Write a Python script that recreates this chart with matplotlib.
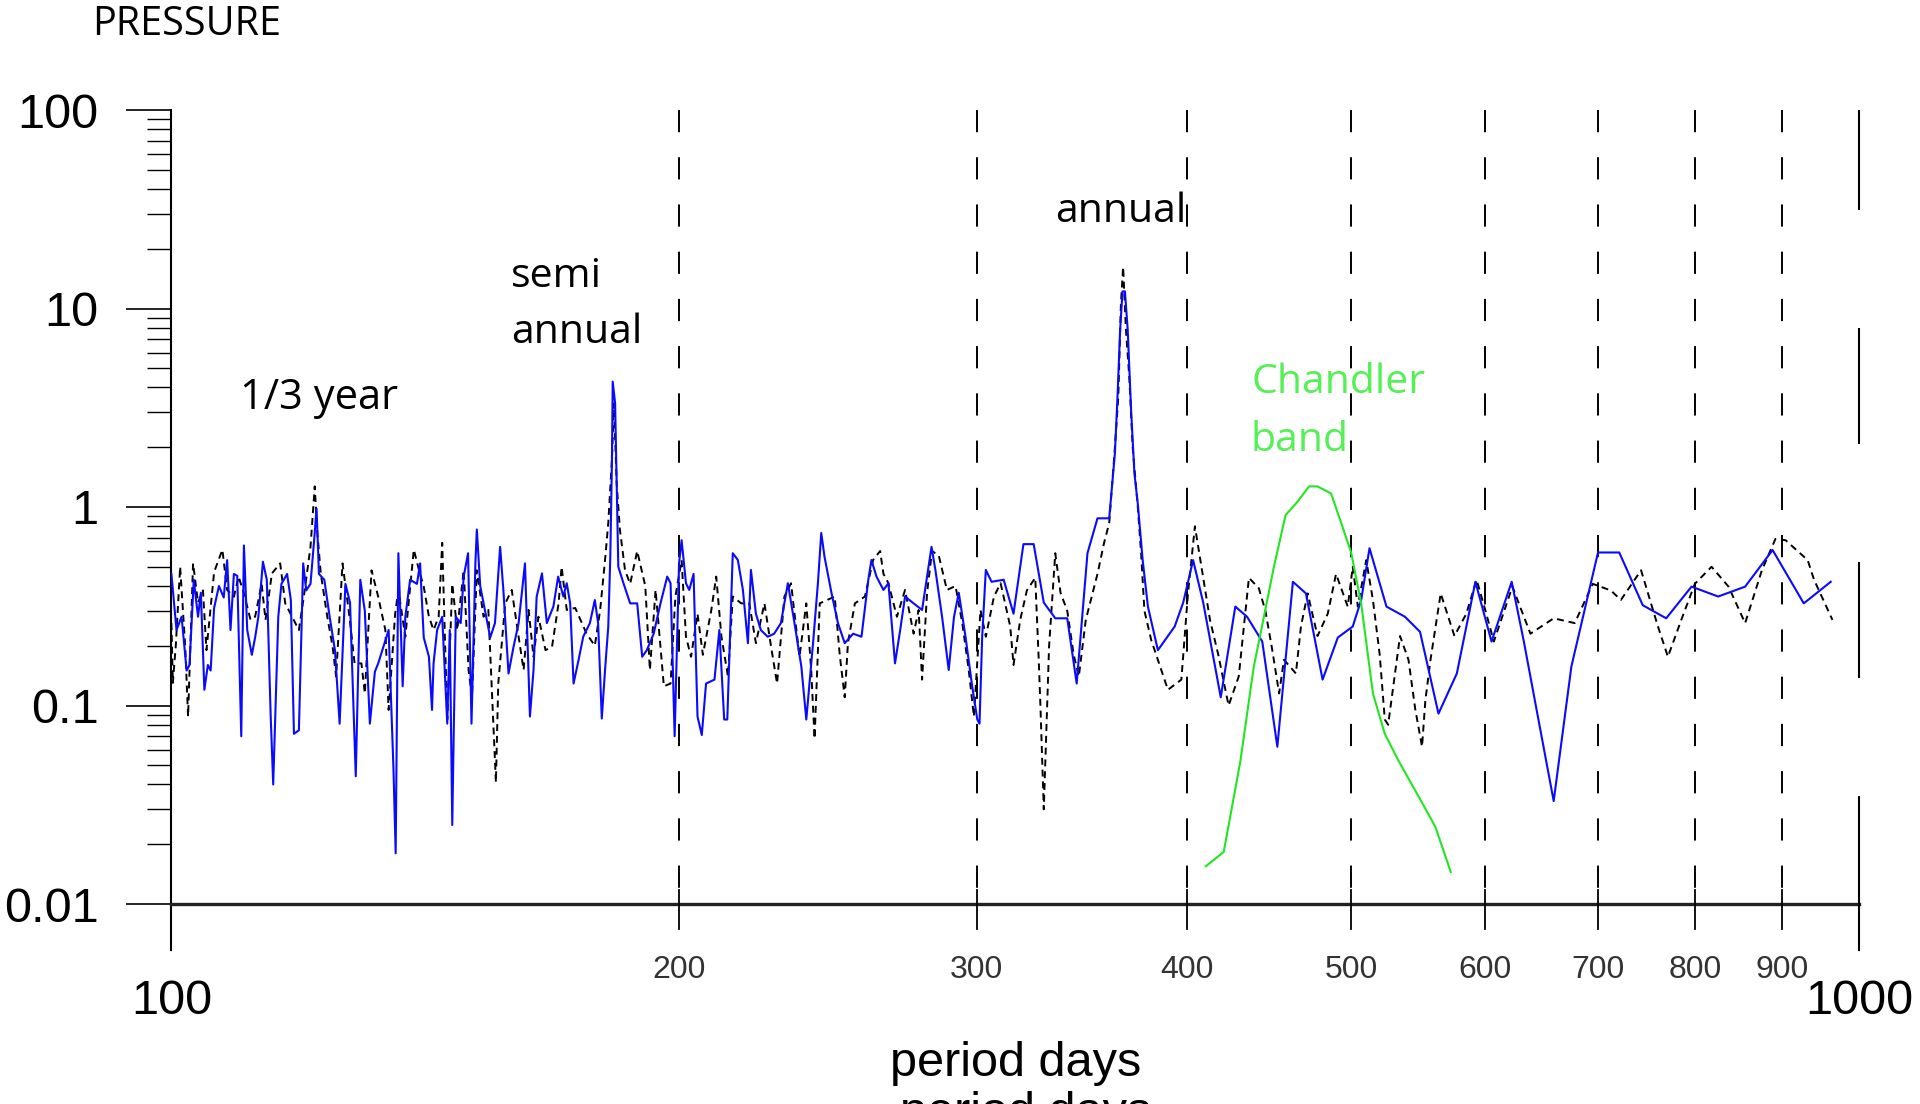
import matplotlib
matplotlib.use("Agg")
import matplotlib.pyplot as plt
from matplotlib.ticker import LogLocator, NullFormatter, NullLocator, FixedFormatter, FixedLocator

plt.rcParams['lines.scale_dashes'] = False

# pressure spectrum, blue (solid) series: period (days), amplitude
blue_period = [100.0, 100.7, 101.4, 102.1, 102.5, 103.1, 103.7, 104.1, 104.6, 105.1, 105.5, 106.0, 106.7, 107.4,
               107.9, 108.4, 108.9, 109.4, 110.0, 110.4, 110.9, 111.6, 112.1, 112.6, 113.3, 113.9, 114.5, 114.9,
               115.7, 116.2, 117.1, 117.7, 118.2, 119.0, 119.7, 120.2, 120.9, 121.5, 121.9, 122.3, 123.2, 124.1,
               125.0, 125.8, 126.8, 127.6, 128.6, 129.4, 130.2, 131.1, 132.0, 132.6, 133.6, 134.5, 135.4, 135.8,
               136.3, 137.1, 137.6, 138.5, 139.8, 140.4, 141.1, 142.1, 142.7, 143.0, 143.7, 144.7, 145.7, 146.2,
               146.7, 147.0, 147.4, 148.4, 149.0, 149.9, 150.6, 151.4, 151.7, 152.4, 153.4, 154.5, 155.5, 156.6,
               157.3, 158.4, 159.5, 160.6, 162.0, 163.1, 163.9, 164.6, 165.8, 166.9, 168.4, 169.5, 170.7,
               171.5, 172.3, 173.1, 174.3, 175.4, 177.0, 178.2, 179.0, 179.9, 180.7, 181.5, 182.0, 182.4, 182.6,
               183.2, 183.6, 184.0, 185.3, 187.0, 188.8, 190.1, 191.3, 193.1, 194.9, 196.7, 197.6, 198.7, 199.9,
               200.6, 201.8, 202.7, 203.9, 205.0, 206.2, 207.4, 209.8, 211.2, 212.6, 213.5, 215.1, 216.6, 218.1,
               219.6, 220.5, 222.0, 223.5, 225.6, 227.6, 229.7, 231.9, 234.0, 236.2, 237.8, 240.0, 241.6, 242.7,
               243.8, 246.1, 248.3, 250.6, 253.5, 256.4, 258.8, 259.9, 261.7, 264.2, 266.0, 267.2, 268.4, 270.3,
               272.1, 275.3, 278.5, 280.4, 282.1, 283.6, 286.2, 288.8, 290.9, 292.8, 295.5, 298.2, 300.3, 301.2,
               302.3, 303.8, 306.2, 311.3, 315.5, 319.8, 324.3, 328.8, 334.0, 339.5, 343.9, 349.0, 353.8, 359.5,
               362.3, 363.6, 364.9, 366.1, 367.3, 368.7, 370.4, 372.1, 373.8, 376.3, 379.0, 384.2, 393.1, 397.7,
               403.1, 408.7, 418.6, 427.0, 433.9, 443.0, 452.2, 461.9, 470.2, 481.0, 491.1, 501.2, 507.0, 512.8,
               524.8, 538.2, 549.4, 563.4, 577.7, 592.5, 605.7, 622.6, 632.8, 659.3, 675.4, 700.4, 721.0, 744.5,
               768.7, 795.7, 825.2, 856.1, 888.8, 927.4, 962.2]
blue_amp = [0.46, 0.24, 0.28, 0.15, 0.16, 0.43, 0.28, 0.37, 0.12, 0.16, 0.15, 0.31, 0.40, 0.35,
            0.54, 0.24, 0.46, 0.45, 0.07, 0.64, 0.24, 0.18, 0.22, 0.28, 0.53, 0.43, 0.09, 0.04,
            0.28, 0.41, 0.46, 0.34, 0.072, 0.075, 0.52, 0.38, 0.41, 0.68, 0.98, 0.46, 0.43, 0.28,
            0.19, 0.081, 0.41, 0.33, 0.044, 0.43, 0.30, 0.081, 0.148, 0.163, 0.20, 0.24, 0.047, 0.018,
            0.585, 0.125, 0.28, 0.43, 0.41, 0.52, 0.22, 0.176, 0.095, 0.163, 0.24, 0.28, 0.081, 0.24,
            0.025, 0.075, 0.28, 0.26, 0.446, 0.585, 0.081, 0.52, 0.77, 0.40, 0.30, 0.22, 0.26, 0.63,
            0.38, 0.145, 0.198, 0.26, 0.52, 0.088, 0.151, 0.353, 0.463, 0.26, 0.315, 0.446, 0.354,
            0.413, 0.327, 0.129, 0.17, 0.222, 0.26, 0.34, 0.26, 0.086, 0.151, 0.25, 0.56, 1.66, 4.28,
            3.33, 1.31, 0.50, 0.413, 0.327, 0.327, 0.176, 0.19, 0.23, 0.327, 0.446, 0.413, 0.070, 0.52,
            0.68, 0.413, 0.382, 0.46, 0.088, 0.071, 0.129, 0.135, 0.24, 0.085, 0.085, 0.585, 0.541, 0.382,
            0.206, 0.482, 0.29, 0.24, 0.222, 0.23, 0.26, 0.413, 0.26, 0.157, 0.085, 0.206, 0.413, 0.74,
            0.56, 0.37, 0.26, 0.206, 0.23, 0.222, 0.43, 0.541, 0.446, 0.382, 0.413, 0.26, 0.163, 0.24,
            0.354, 0.327, 0.303, 0.446, 0.63, 0.482, 0.28, 0.151, 0.28, 0.37, 0.222, 0.125, 0.085, 0.081,
            0.222, 0.482, 0.42, 0.43, 0.29, 0.65, 0.65, 0.33, 0.275, 0.275, 0.129, 0.585, 0.877, 0.877,
            1.86, 3.6, 7.8, 12.2, 12.2, 7.8, 3.08, 1.47, 1.04, 0.54, 0.315, 0.19, 0.25, 0.33,
            0.54, 0.33, 0.11, 0.315, 0.28, 0.21, 0.062, 0.42, 0.367, 0.135, 0.22, 0.25, 0.34, 0.62,
            0.315, 0.28, 0.235, 0.091, 0.145, 0.42, 0.21, 0.42, 0.213, 0.033, 0.157, 0.59, 0.59, 0.32,
            0.275, 0.397, 0.354, 0.397, 0.607, 0.327, 0.42]

# black (dashed) series
black_period = [100.0, 100.2, 100.6, 101.2, 101.9, 102.3, 103.0, 103.7, 104.4, 104.9, 106.0, 107.2, 107.9, 108.9,
                109.6, 110.4, 111.4, 112.1, 113.1, 113.7, 114.7, 116.0, 116.8, 117.9, 119.0, 119.8, 120.9, 121.6,
                122.0, 122.6, 123.7, 124.6, 125.2, 126.3, 127.5, 128.4, 129.6, 130.2, 131.4, 132.6, 133.9, 134.5,
                135.7, 136.3, 137.6, 139.2, 140.2, 141.1, 142.1, 143.0, 144.0, 144.7, 145.7, 146.7, 147.7, 149.0,
                150.0, 150.7, 151.7, 153.1, 154.1, 155.2, 155.7, 156.2, 157.7, 159.1, 160.6, 161.7, 162.8, 163.9,
                165.0, 166.6, 168.1, 169.6,
                170.3, 171.5, 173.5, 176.2, 178.2, 179.5, 180.7, 181.5, 182.4, 182.9, 183.6, 184.4, 185.7, 187.0,
                188.8, 190.9, 192.1, 193.6, 195.8, 197.6, 198.9, 200.6, 201.8, 203.2, 205.0, 206.5, 208.9, 210.3,
                211.8, 213.7, 215.1, 217.6, 220.0, 222.0, 224.6, 226.6, 228.5, 230.8, 232.9, 235.6, 237.8, 239.4,
                240.5, 242.2, 247.2, 248.9, 250.6, 251.7, 254.1, 257.6, 260.5, 263.0, 264.2, 266.0, 269.1, 272.1,
                275.3, 277.2, 278.5, 280.4, 282.3, 284.9, 288.1, 291.5, 294.2, 296.8, 298.9, 301.6, 303.8, 307.2,
                310.0, 314.1, 315.5, 318.4, 321.3, 325.0, 326.5, 327.3, 328.8, 331.2, 334.0, 336.4, 339.5, 342.5,
                344.9, 348.2, 353.8, 357.0, 359.5, 362.1, 364.0, 365.3, 366.4, 367.8, 369.5, 371.2, 373.8, 375.5,
                377.2, 380.7, 383.3, 389.5, 396.7, 400.3, 404.1, 407.7, 412.5, 417.2, 423.1, 429.0, 435.0, 440.9,
                444.9, 449.1, 453.3, 456.3, 463.8, 467.0, 471.3, 477.7, 484.4, 489.9, 497.8, 501.2, 504.7, 510.5,
                515.2, 520.0, 523.6, 526.0, 534.6, 540.8, 545.8, 550.9, 553.4, 557.3, 565.1, 575.8, 585.2, 593.5,
                600.7, 607.6, 614.6, 623.2, 638.7, 659.3, 678.5, 695.4, 712.7, 722.6, 742.8, 760.1, 770.5, 784.7,
                799.3, 817.8, 836.9, 856.1, 875.9, 892.2, 904.7, 932.4, 940.5, 964.4]
black_amp = [0.26, 0.13, 0.2, 0.5, 0.2, 0.088, 0.52, 0.33, 0.38, 0.19, 0.47, 0.61, 0.382, 0.353,
             0.446, 0.367, 0.27, 0.28, 0.41, 0.27, 0.463, 0.52, 0.327, 0.28, 0.24, 0.353, 0.63, 1.27,
             0.766, 0.463, 0.28, 0.198, 0.14, 0.52, 0.28, 0.163, 0.163, 0.115, 0.48, 0.353, 0.24, 0.095,
             0.29, 0.382, 0.222, 0.61, 0.48, 0.397, 0.28, 0.24, 0.28, 0.66, 0.085, 0.41, 0.24, 0.48,
             0.151, 0.11, 0.48, 0.28, 0.303, 0.075, 0.041, 0.129, 0.327, 0.382, 0.222, 0.151, 0.303, 0.176,
             0.28, 0.19, 0.198, 0.327,
             0.50, 0.303, 0.31, 0.23, 0.20, 0.303, 0.54, 0.83, 1.72, 3.33, 1.31, 0.77, 0.48, 0.41,
             0.60, 0.40, 0.151, 0.382, 0.125, 0.129, 0.354, 0.54, 0.222, 0.176, 0.29, 0.18, 0.303, 0.446,
             0.222, 0.14, 0.354, 0.327, 0.327, 0.206, 0.327, 0.2, 0.129, 0.354, 0.413, 0.176, 0.327, 0.151,
             0.068, 0.327, 0.354, 0.18, 0.11, 0.206, 0.327, 0.354, 0.541, 0.6, 0.46, 0.413, 0.28, 0.382,
             0.23, 0.303, 0.135, 0.37, 0.6, 0.57, 0.382, 0.4, 0.26, 0.151, 0.088, 0.303, 0.222, 0.354,
             0.413, 0.25, 0.16, 0.27, 0.38, 0.44, 0.175, 0.1, 0.03, 0.2, 0.585, 0.37, 0.3, 0.18,
             0.14, 0.27, 0.46, 0.66, 0.83, 1.86, 3.6, 10.6, 16.2, 7.8, 4.5, 2.0, 1.0, 0.585,
             0.3, 0.214, 0.18, 0.12, 0.135, 0.367, 0.8, 0.5, 0.27, 0.18, 0.1, 0.14, 0.44, 0.39,
             0.3, 0.19, 0.115, 0.17, 0.145, 0.25, 0.367, 0.224, 0.29, 0.46, 0.315, 0.5, 0.315, 0.54,
             0.34, 0.18, 0.085, 0.08, 0.224, 0.17, 0.096, 0.062, 0.106, 0.17, 0.367, 0.224, 0.29, 0.43,
             0.3, 0.21, 0.28, 0.397, 0.23, 0.275, 0.26, 0.41, 0.38, 0.34, 0.48, 0.25, 0.176, 0.27,
             0.41, 0.5, 0.397, 0.26, 0.48, 0.69, 0.68, 0.54, 0.43, 0.27]

# Chandler band (green)
chandler_period = [410.2, 420.3, 429.9, 437.9, 444.0, 450.1, 457.3, 464.7, 472.2, 477.7, 486.6, 493.4, 500.1,
                   507.0, 515.2, 523.6, 533.3, 548.1, 561.0, 572.9]
chandler_amp = [0.0155, 0.0183, 0.052, 0.157, 0.28, 0.5, 0.91, 1.06, 1.27, 1.27, 1.17, 0.83, 0.59,
                0.327, 0.115, 0.072, 0.053, 0.035, 0.0245, 0.0145]

grid_periods = [200, 300, 400, 500, 600, 700, 800, 900]
ytick_vals = [0.01, 0.1, 1, 10, 100]
ytick_labels = ['0.01', '0.1', '1', '10', '100']

W, H = 1920, 1104
fig = plt.figure(figsize=(W / 100, H / 100), dpi=100)
ax = fig.add_axes([171.4 / W, (H - 904) / H, (1859 - 171.4) / W, (904 - 110) / H])
ax.set_xscale('log')
ax.set_yscale('log')
ax.set_xlim(100, 1000)
ax.set_ylim(0.01, 100)
for s in ax.spines.values():
    s.set_visible(False)

# y axis ticks / labels
ax.yaxis.set_major_locator(FixedLocator(ytick_vals))
ax.yaxis.set_major_formatter(FixedFormatter(ytick_labels))
ax.yaxis.set_minor_locator(LogLocator(base=10, subs=range(2, 10)))
ax.yaxis.set_minor_formatter(NullFormatter())
ax.tick_params(axis='y', which='major', length=32.4, width=1.2, pad=20, labelsize=35, colors='black')
ax.tick_params(axis='y', which='minor', length=17.5, width=1.0, colors='black')
for lab in ax.get_yticklabels():
    lab.set_family('Liberation Sans')
ax.xaxis.set_major_locator(NullLocator())
ax.xaxis.set_minor_locator(NullLocator())

xt = ax.get_xaxis_transform()
# axis lines
ax.plot([100, 100], [-0.058, 1], transform=xt, color='black', lw=1.5, clip_on=False)
ax.plot([100, 1000], [0, 0], transform=xt, color='#222222', lw=2.4, clip_on=False)

# vertical dashed grid + ticks
for p in grid_periods:
    ax.plot([p, p], [100, 0.01], color='black', lw=1.4, linestyle=(0, (16, 18)))
    ax.plot([p, p], [0.018, -0.032], transform=xt, color='black', lw=1.3, clip_on=False)
    ax.text(p, -0.083, str(p), transform=xt, ha='center', va='center', fontsize=23,
            family='Liberation Sans', color='#333333')
ax.plot([1000, 1000], [0.01, 100], color='black', lw=1.5, linestyle=(5.8, (83.5, 85)), clip_on=False)
ax.plot([1000, 1000], [0, -0.058], transform=xt, color='black', lw=1.5, clip_on=False)
ax.text(100, -0.1234, '100', transform=xt, ha='center', va='center', fontsize=35, family='Liberation Sans')
ax.text(1000, -0.1234, '1000', transform=xt, ha='center', va='center', fontsize=35, family='Liberation Sans')

# data
ax.plot(black_period, black_amp, color='black', lw=1.4, linestyle=(0, (5, 3.5)))
ax.plot(blue_period, blue_amp, color='#0a0aff', lw=1.5)
ax.plot(chandler_period, chandler_amp, color='#22e622', lw=1.5)

# annotations
lab_font = 'Open Sans'
fig.text(92 / W, 1 - 25 / H, 'PRESSURE', fontsize=28.5, family=lab_font, ha='left', va='center')
fig.text(240 / W, 1 - 398 / H, '1/3 year', fontsize=30, family=lab_font, ha='left', va='center')
fig.text(511 / W, 1 - 277 / H, 'semi', fontsize=29.5, family=lab_font, ha='left', va='center')
fig.text(511 / W, 1 - 333 / H, 'annual', fontsize=29.5, family=lab_font, ha='left', va='center')
fig.text(1055 / W, 1 - 212 / H, 'annual', fontsize=29.5, family=lab_font, ha='left', va='center')
fig.text(1251 / W, 1 - 383 / H, 'Chandler', fontsize=29.5, family=lab_font, ha='left', va='center',
         color='#55f055')
fig.text(1251 / W, 1 - 441 / H, 'band', fontsize=29.5, family=lab_font, ha='left', va='center',
         color='#55f055')

fig.text(1016 / W, 1 - 1063 / H, 'period days', fontsize=35, family='Liberation Sans',
         ha='center', va='center')
fig.text(1026 / W, 1 - 1114 / H, 'period days', fontsize=35, family='Liberation Sans',
         ha='center', va='center')

fig.savefig('out.png', dpi=100, facecolor='white')
